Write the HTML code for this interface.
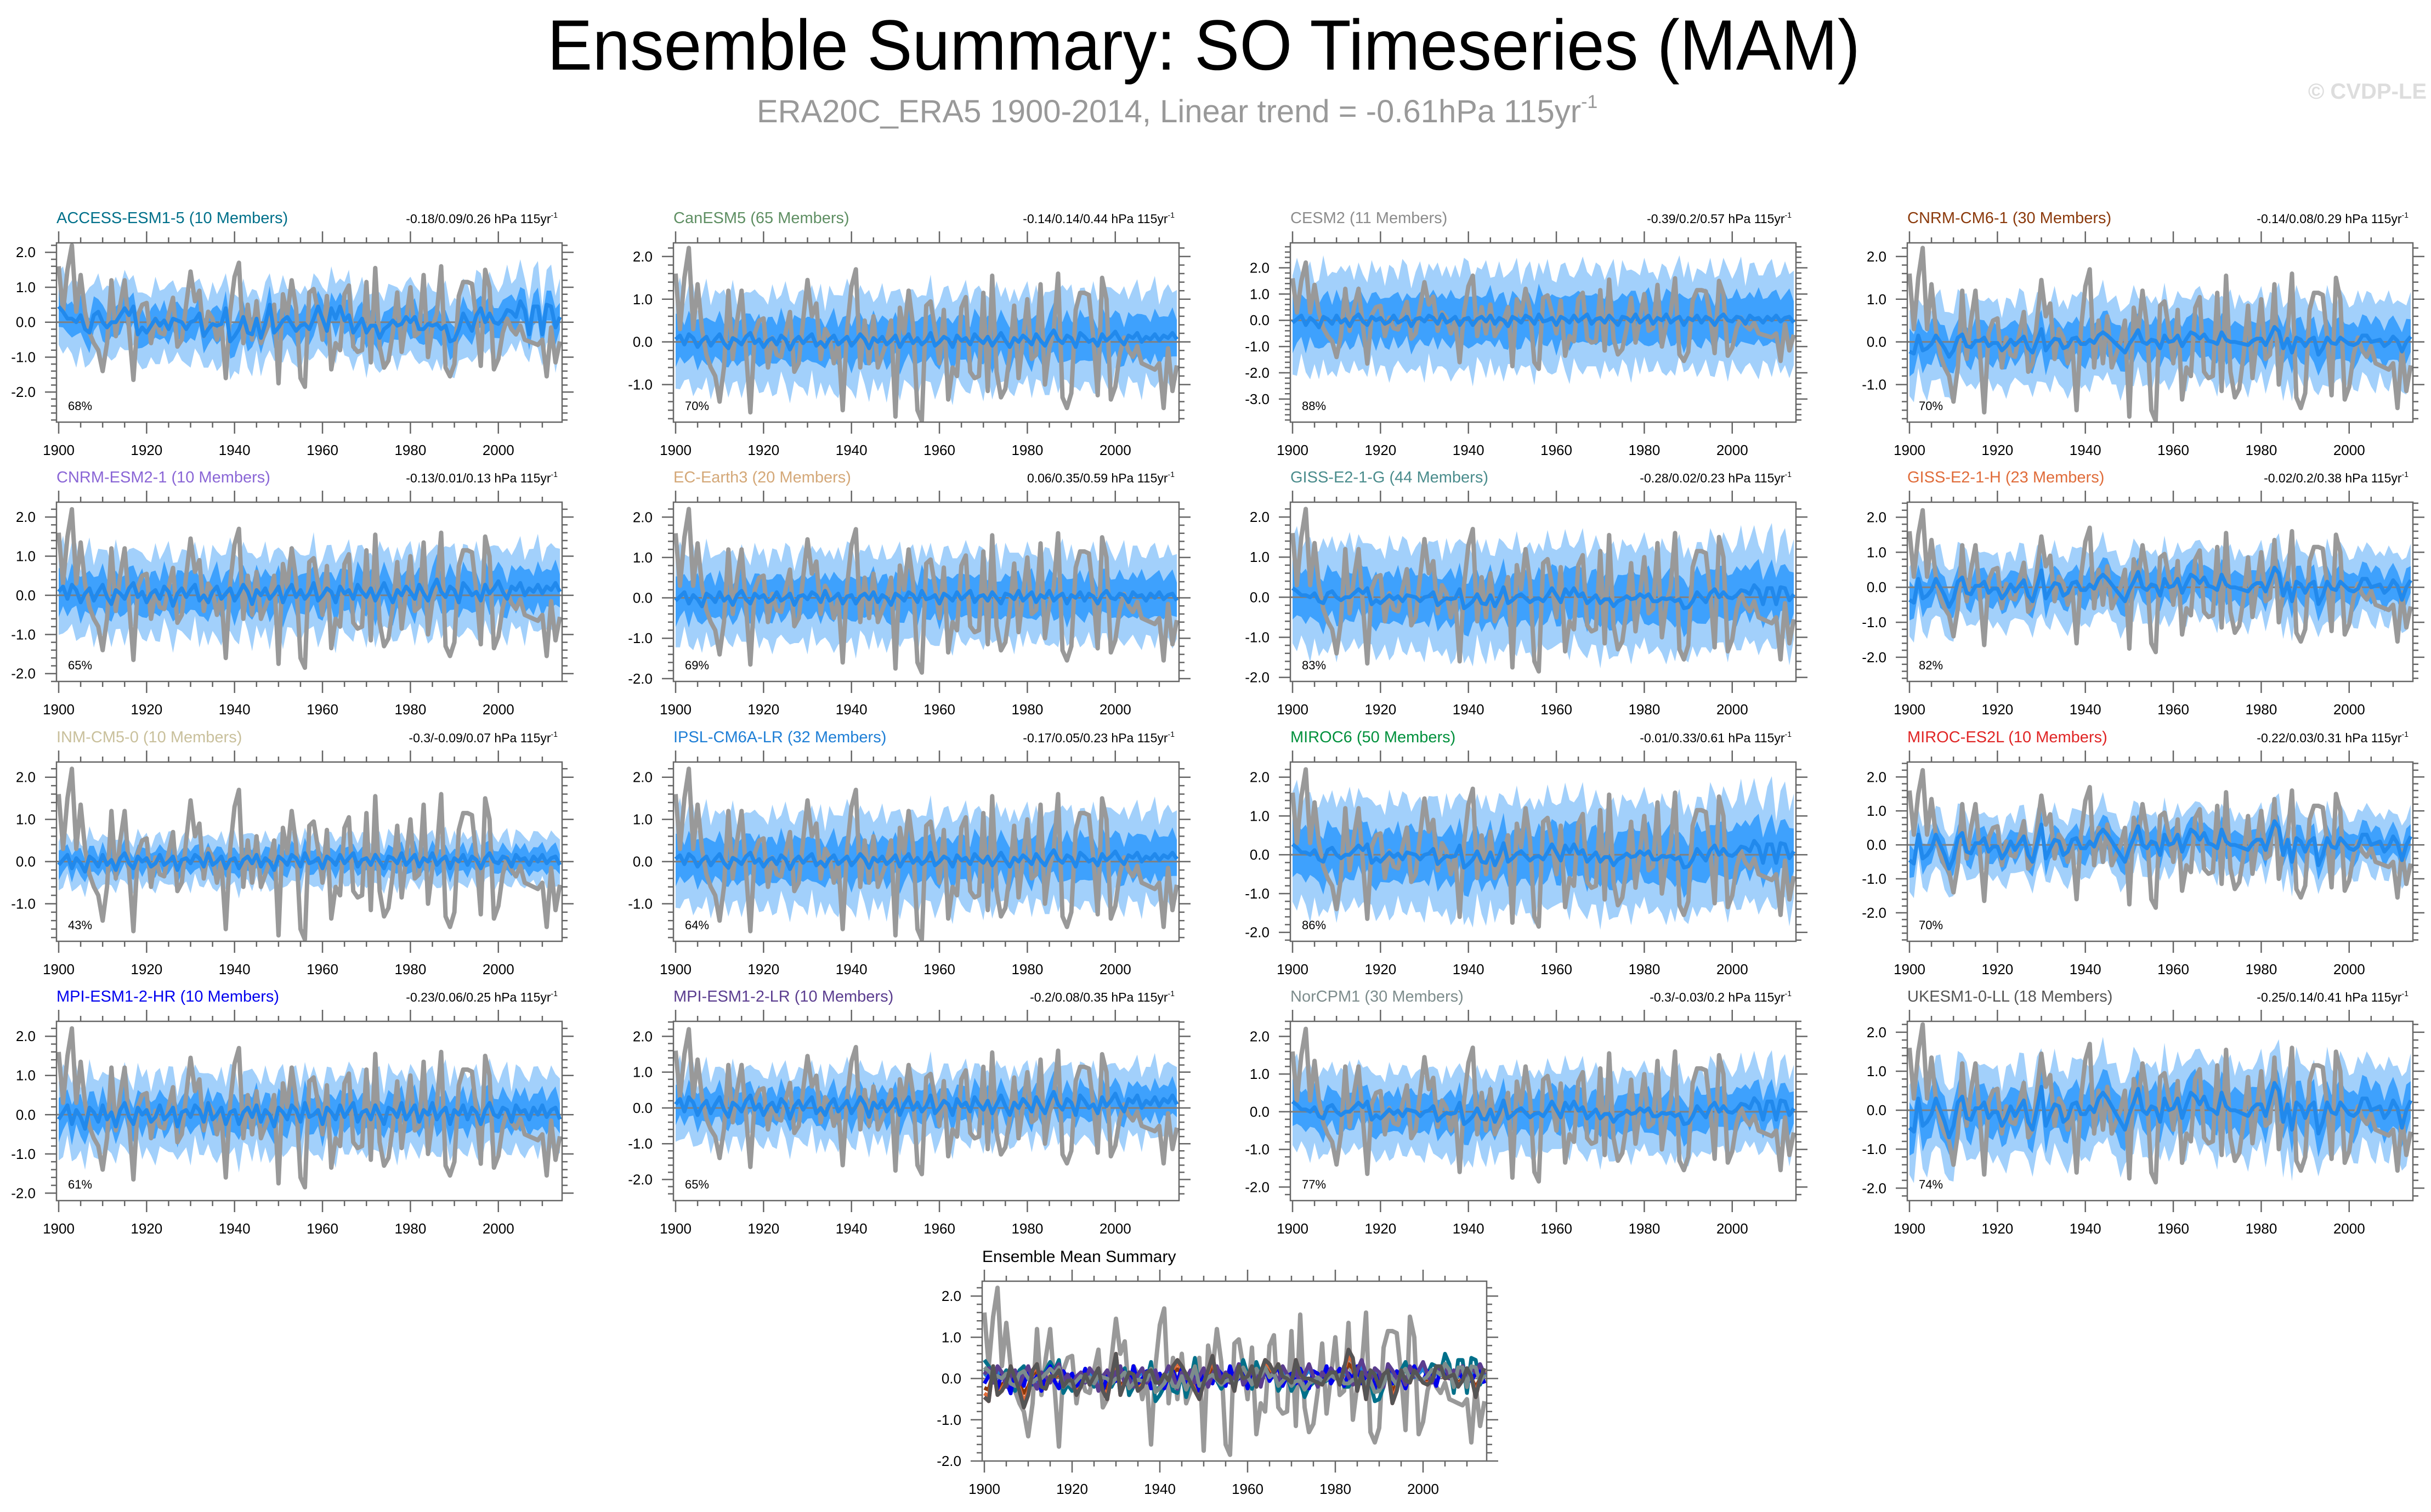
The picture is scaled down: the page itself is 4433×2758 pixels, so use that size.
<!DOCTYPE html>
<html><head><meta charset="utf-8"><title>Ensemble Summary: SO Timeseries (MAM)</title>
<style>html,body{margin:0;padding:0;background:#fff}svg{display:block;font-family:"Liberation Sans",Arial,sans-serif}</style>
</head><body>
<svg id="chart" xmlns="http://www.w3.org/2000/svg" width="4433" height="2758" viewBox="0 0 4433 2758">
<rect x="0" y="0" width="4433" height="2758" fill="#fff"/>
<text x="2195" y="127" font-size="130" text-anchor="middle" textLength="2394" lengthAdjust="spacingAndGlyphs" fill="#000">Ensemble Summary: SO Timeseries (MAM)</text>
<text x="1380" y="223" font-size="58" fill="#999">ERA20C_ERA5 1900-2014, Linear trend = -0.61hPa 115yr<tspan dy="-26" font-size="34">-1</tspan></text>
<text x="4425" y="180" font-size="40" font-weight="bold" text-anchor="end" fill="#ddd">© CVDP-LE</text>
</svg>
<script>
const obs = [1.6,0.3,1.5,2.2,0.3,1.35,0.3,-0.3,-0.6,-0.8,
-1.4,-0.6,1.2,-0.4,0.5,1.2,-0.2,-1.65,0.2,0.5,
0.55,-0.6,0.1,-0.3,-0.35,0.2,0.7,-0.7,-0.5,0.5,
1.45,0.6,0.9,-0.4,0.3,0.1,-0.5,0.0,-1.6,0.3,
1.3,1.7,-0.6,0.5,-0.5,0.6,-0.6,-0.3,0.0,0.5,
-1.75,0.8,0.2,1.2,0.4,-1.6,-1.85,0.85,0.95,0.3,
-0.5,0.75,-1.35,-0.6,-0.8,0.8,1.05,-0.7,-0.85,-0.8,
1.15,-1.15,1.55,-0.7,-1.3,-1.1,-0.3,0.85,-0.85,0.05,
1.0,-0.4,-0.3,1.35,-1.0,-0.15,0.25,1.6,-1.3,-1.55,
-1.2,0.75,1.15,1.15,1.1,0.1,-1.25,1.5,1.0,-1.35,
-1.05,-0.3,0.1,-0.2,-0.35,-0.1,-0.5,-0.55,-0.6,-0.65,
-0.5,-1.55,-0.15,-1.15,-0.55];
const meanA = [.45,.3,.1,.1,0,.2,-.2,-.3,.2,.3,
0,-.15,0,0,.2,.4,.2,.45,-.35,-.15,
-.3,-.1,.1,-.1,.05,-.2,.1,.05,0,-.2,
0,.05,.25,-.4,-.2,-.05,-.1,-.05,.4,-.55,
-.4,-.2,.15,-.3,-.35,.1,-.45,-.05,.5,-.3,
-.15,.05,.15,-.05,-.25,-.1,-.05,-.2,.1,.45,
.1,-.25,.4,.1,.45,.05,.2,-.3,-.1,.1,
-.3,-.1,-.1,-.45,-.2,-.1,.05,-.1,-.05,.15,
0,.15,-.2,-.2,-.05,-.1,-.05,-.2,-.1,-.55,
-.5,-.2,.25,0,-.25,.2,.4,0,.25,0,
-.05,.1,.35,.3,.15,.6,.35,-.35,.45,.45,
-.35,.5,.45,-.15,.15];
const meanB = [-.45,-.55,.3,-.4,-.3,-.1,.3,0,-.3,-.7,
-.4,.2,.35,-.2,-.25,.05,.05,.2,-.2,-.05,
-.05,-.4,-.2,.1,-.15,.05,.25,-.3,-.5,.05,
.6,-.4,-.1,.15,.1,-.3,-.2,.15,.2,-.1,
-.1,.1,-.05,.3,.45,.3,.1,-.1,-.3,-.5,
-.1,.2,.55,0,-.1,.1,.05,-.3,.3,0,
.05,.3,-.2,.15,.45,.35,.15,.35,.05,0,
-.1,.45,.1,0,0,-.05,-.1,-.15,.05,.15,
.15,-.15,.25,.7,.5,-.3,.15,-.5,.2,.1,
-.2,.1,.2,-.6,-.3,.2,-.05,-.1,.2,.05,
-.1,-.15,-.05,.3,.3,0,.05,.1,-.2,-.05,
.25,.05,-.45,0,.25];
const meanC = [.1,.25,-.1,.3,.15,-.2,.05,.2,-.15,.1,
.3,-.05,-.25,.15,.05,-.1,.2,.35,-.05,.1,
-.2,.05,.15,-.1,.25,.1,-.3,.05,.2,-.05,
.15,.3,-.15,0,-.2,.1,.25,-.1,.05,.2,
-.15,.05,.3,.1,-.25,.15,0,.2,-.1,.05,
.25,-.2,.1,.3,-.05,.15,-.1,.05,.35,-.15,
0,.2,.1,-.2,.25,.05,.15,-.1,.3,.1,
-.05,.2,-.15,.1,.35,.05,-.2,.15,0,.25,
.1,-.1,.3,.05,-.15,.2,.45,.1,-.05,.25,
.15,-.2,.35,.2,0,.1,-.15,.3,.05,.2,
.4,.1,-.1,.25,.15,.35,0,.2,.1,.3,
.05,.25,.15,.35,.1];
const meanD = [-.1,.05,.2,-.2,.1,-.05,-.3,.15,.05,-.15,
.2,-.1,.05,-.25,.1,.25,-.05,-.2,.15,0,
.1,-.15,-.05,.2,-.1,0,.15,-.25,.05,.1,
-.05,.2,.1,-.15,.25,-.1,0,.15,-.2,.05,
.1,-.2,.05,.15,-.05,.2,-.15,.1,0,-.25,
.15,.05,-.1,.2,.1,-.15,.25,-.05,0,.1,
-.2,.15,.05,-.1,.2,-.05,.1,.25,-.15,.05,
.1,-.1,.2,0,-.2,.15,.1,-.05,.25,-.1,
.05,.2,-.15,.1,0,.25,-.1,.05,.15,-.2,
.1,0,.2,-.1,.15,.05,-.2,.1,.25,0,
-.05,.15,.1,-.15,.2,.05,.1,-.1,.15,0,
.2,-.05,.1,.15,-.1];
const spreadInner = [1.2,1.0,.9,1.1,.8,1.3,1.0,.9,1.2,.8,
1.1,.9,1.3,1.0,.8,1.2,1.1,.9,1.0,1.2,
.8,1.1,1.0,.9,1.3,.8,1.0,1.2,.9,1.1,
1.0,.8,1.2,1.1,.9,1.0,1.3,.8,1.1,1.0,
.9,1.2,1.0,.8,1.1,1.3,.9,1.0,1.2,.8,
1.1,1.0,.9,1.2,1.0,.8,1.3,1.1,.9,1.0,
1.2,.8,1.0,1.1,.9,1.3,1.0,.8,1.2,1.1,
.9,1.0,1.2,.8,1.1,1.0,.9,1.3,1.0,.8,
1.1,1.2,.9,1.0,.8,1.1,1.3,.9,1.0,1.2,
.8,1.0,1.1,.9,1.2,1.0,.8,1.3,1.1,.9,
1.0,1.2,.8,1.1,1.0,.9,1.3,1.0,.8,1.2,
1.1,.9,1.0,1.2,.9];
const spreadOuter = [1.0,1.3,.9,1.1,1.2,.8,1.0,1.3,.9,1.1,
.9,1.2,1.0,1.3,.8,1.1,1.0,.9,1.2,1.0,
1.1,.8,1.2,1.0,.9,1.3,1.1,.8,1.0,1.2,
.9,1.1,1.0,1.3,.8,1.2,.9,1.1,1.0,1.3,
1.2,.9,1.1,1.0,1.3,.8,1.0,1.2,.9,1.1,
1.0,1.3,.8,1.0,1.2,.9,1.1,1.0,1.3,.8,
.9,1.1,1.2,1.0,.8,1.1,1.3,.9,1.0,1.2,
1.1,.9,1.0,1.3,.8,1.2,1.0,1.1,.9,1.0,
1.3,.9,1.1,.8,1.2,1.0,.9,1.1,1.3,1.0,
1.2,.8,1.0,1.1,.9,1.3,1.0,.9,1.2,1.1,
.9,1.0,1.3,.8,1.1,1.2,.9,1.0,1.1,1.3,
.8,1.0,1.2,.9,1.1];
const models = ["ACCESS-ESM1-5","CanESM5","CESM2","CNRM-CM6-1","CNRM-ESM2-1","EC-Earth3","GISS-E2-1-G","GISS-E2-1-H","INM-CM5-0","IPSL-CM6A-LR","MIROC6","MIROC-ES2L","MPI-ESM1-2-HR","MPI-ESM1-2-LR","NorCPM1","UKESM1-0-LL"];
const members = [10,65,11,30,10,20,44,23,10,32,50,10,10,10,30,18];
const trends = ["-0.18/0.09/0.26","-0.14/0.14/0.44","-0.39/0.2/0.57","-0.14/0.08/0.29","-0.13/0.01/0.13","0.06/0.35/0.59","-0.28/0.02/0.23","-0.02/0.2/0.38","-0.3/-0.09/0.07","-0.17/0.05/0.23","-0.01/0.33/0.61","-0.22/0.03/0.31","-0.23/0.06/0.25","-0.2/0.08/0.35","-0.3/-0.03/0.2","-0.25/0.14/0.41"];
const pcts = ["68%","70%","88%","70%","65%","69%","83%","82%","43%","64%","86%","70%","61%","65%","77%","74%"];
const colors = ["#00708a","#5f8f63","#8c8c8c","#8b3a0c","#8a66d6","#d4a878","#4a8c8c","#e06c3a","#c9c09c","#1f7fd6","#00903c","#e02525","#0000ee","#5b3d8f","#7d8c8c","#555555"];
const yMin = [-2.86,-1.88,-3.88,-1.88,-2.2,-2.07,-2.1,-2.69,-1.89,-1.89,-2.23,-2.84,-2.19,-2.59,-2.36,-2.32];
const yMax = [2.27,2.32,2.95,2.32,2.38,2.37,2.37,2.43,2.36,2.36,2.39,2.44,2.38,2.42,2.4,2.28];
const innerW = [.45,.5,.9,.45,.5,.5,.6,.45,.28,.5,.65,.4,.45,.45,.5,.55];
const outerW = [1.0,1.05,1.8,.95,1.0,1.05,1.25,.95,.55,1.05,1.35,.85,.95,.95,1.05,1.1];
const meanSets = [meanA,meanB,meanC,meanD];
const meanIdx = [0,2,3,1,2,3,0,1,3,2,0,1,3,2,0,1];
const meanAmp = [1.0,.6,.9,.5,.9,.7,.5,.8,.8,.6,.6,1.0,1.2,1.0,.6,1.0];
const years = obs.map((v,i)=>1900+i);

const NS="http://www.w3.org/2000/svg";
const svg=document.getElementById('chart');
function mk(tag,attrs,parent){const e=document.createElementNS(NS,tag);for(const k in attrs)e.setAttribute(k,attrs[k]);(parent||svg).appendChild(e);return e;}
function modelMean(p){const m=meanSets[meanIdx[p]];return m.map(v=>v*meanAmp[p]);}

function drawAxes(g,L,T,W,H,xs,ys,lo,hi){
  let d="";
  for(let y=1900;y<=2014;y+=5){const x=xs(y);const len=(y%20===0)?21:10;d+=`M${x},${T}V${T-len}M${x},${T+H}V${T+H+len}`;}
  const ts=Math.ceil(lo*5)/5;
  for(let k=Math.round(ts*5);k<=Math.floor(hi*5);k++){const v=k/5;const y=ys(v);const len=(k%5===0)?21:10;d+=`M${L},${y}H${L-len}M${L+W},${y}H${L+W+len}`;}
  const t=mk('path',{d:d,stroke:'#666','stroke-width':2.5,fill:'none'},g);
  
  
  const b=mk('rect',{x:L,y:T,width:W,height:H,fill:'none',stroke:'#666','stroke-width':2.5},g);
  
  
  for(let y=1900;y<=2000;y+=20){
    const tx=mk('text',{x:xs(y),y:T+H+60,'font-size':26,'text-anchor':'middle',fill:'#000'},g);tx.textContent=y;
    
    
  }
  for(let v=Math.ceil(lo);v<=Math.floor(hi);v++){
    const tx=mk('text',{x:L-38,y:ys(v)+9,'font-size':26,'text-anchor':'end',fill:'#000'},g);tx.textContent=v.toFixed(1);
    
    
  }
}
function linePath(xs,ys,arr){return arr.map((v,i)=>(i?'L':'M')+xs(years[i]).toFixed(1)+','+ys(v).toFixed(1)).join('');}
function bandPath(xs,ys,up,dn){let d=up.map((v,i)=>(i?'L':'M')+xs(years[i]).toFixed(1)+','+ys(v).toFixed(1)).join('');for(let i=dn.length-1;i>=0;i--)d+='L'+xs(years[i]).toFixed(1)+','+ys(dn[i]).toFixed(1);return d+'Z';}

const colLeft=[103,1228,2353,3478], rowTop=[443,916,1390,1863], PW=922, PH=327;
models.forEach((name,p)=>{
  const L=colLeft[p%4], T=rowTop[Math.floor(p/4)], lo=yMin[p], hi=yMax[p];
  const xs=y=>L+4+(y-1900)*(PW-8)/114;
  const ys=v=>T+(hi-v)/(hi-lo)*PH;
  const g=mk('g',{});
  
  
  const cid='clip'+p;
  const cp=mk('clipPath',{id:cid},g);mk('rect',{x:L,y:T,width:PW,height:PH},cp);
  const pg=mk('g',{'clip-path':`url(#${cid})`},g);
  const m=modelMean(p);
  const oU=m.map((v,i)=>v+outerW[p]*spreadOuter[i]), oD=m.map((v,i)=>v-outerW[p]*spreadOuter[(i+3)%spreadOuter.length]);
  const iU=m.map((v,i)=>v+innerW[p]*spreadInner[i]), iD=m.map((v,i)=>v-innerW[p]*spreadInner[(i+5)%spreadInner.length]);
  const ob=mk('path',{d:bandPath(xs,ys,oU,oD),fill:'#a2d0fb',stroke:'none'},pg);
  
  
  const ib=mk('path',{d:bandPath(xs,ys,iU,iD),fill:'#3ea1fd',stroke:'none'},pg);
  
  
  const zl=mk('line',{x1:L,x2:L+PW,y1:ys(0),y2:ys(0),stroke:'#808080','stroke-width':3},pg);
  
  
  const ol=mk('path',{d:linePath(xs,ys,obs),fill:'none',stroke:'#999','stroke-width':8,'stroke-linejoin':'round'},pg);
  
  
  const ml=mk('path',{d:linePath(xs,ys,m),fill:'none',stroke:'#2189ec','stroke-width':7,'stroke-linejoin':'round'},pg);
  
  
  drawAxes(g,L,T,PW,PH,xs,ys,lo,hi);
  const tt=mk('text',{x:L,y:T-36,'font-size':29,fill:colors[p]},g);tt.textContent=`${name} (${members[p]} Members)`;
  
  
  const tr=mk('text',{x:L+PW-8,y:T-36,'font-size':23,'text-anchor':'end',fill:'#000'},g);
  tr.textContent=trends[p]+' hPa 115yr';
  const sup=mk('tspan',{dy:-10,'font-size':14},tr);sup.textContent='-1';
  
  
  const pc=mk('text',{x:L+21,y:T+PH-22,'font-size':22,fill:'#000'},g);pc.textContent=pcts[p];
  
  
});

(function(){
  const L=1791,T=2337,W=920,H=328,lo=-2.0,hi=2.36;
  const xs=y=>L+4+(y-1900)*(W-8)/114;
  const ys=v=>T+(hi-v)/(hi-lo)*H;
  const g=mk('g',{});
  
  
  const cp=mk('clipPath',{id:'clipS'},g);mk('rect',{x:L,y:T,width:W,height:H},cp);
  const pg=mk('g',{'clip-path':'url(#clipS)'},g);
  const zl=mk('line',{x1:L,x2:L+W,y1:ys(0),y2:ys(0),stroke:'#808080','stroke-width':3},pg);
  
  
  const ol=mk('path',{d:linePath(xs,ys,obs),fill:'none',stroke:'#999','stroke-width':8,'stroke-linejoin':'round'},pg);
  
  
  models.forEach((name,p)=>{
    const l=mk('path',{d:linePath(xs,ys,modelMean(p)),fill:'none',stroke:colors[p],'stroke-width':7,'stroke-linejoin':'round'},pg);
    
    
  });
  drawAxes(g,L,T,W,H,xs,ys,lo,hi);
  const tt=mk('text',{x:L,y:2302,'font-size':30,fill:'#000'},g);tt.textContent='Ensemble Mean Summary';
  
  
})();
</script>
</body></html>
